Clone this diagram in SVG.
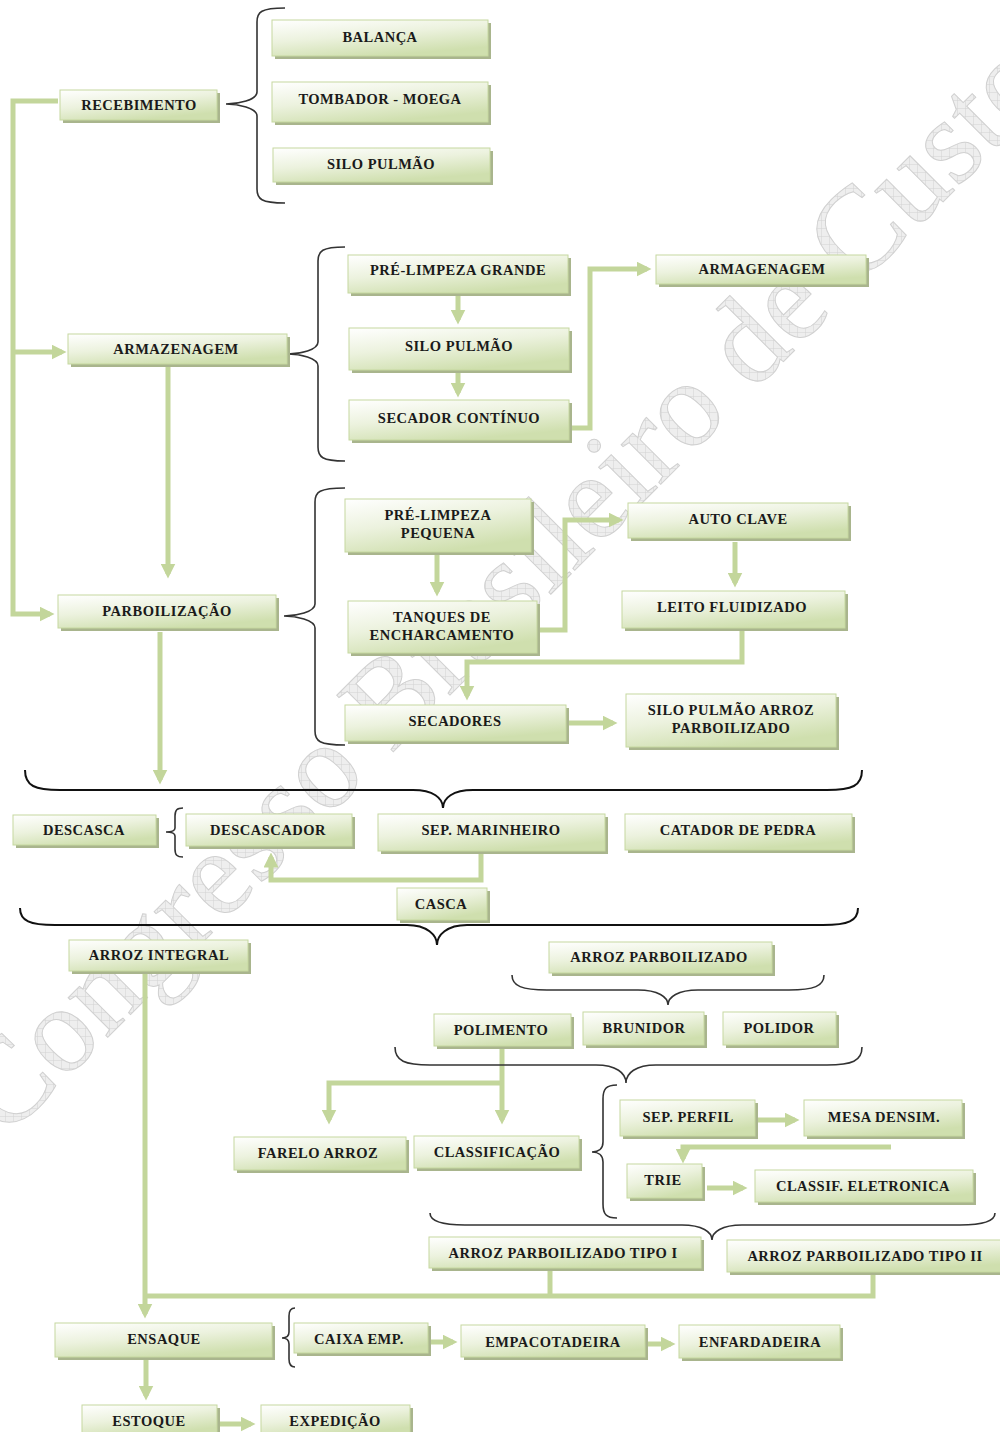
<svg xmlns="http://www.w3.org/2000/svg" width="1000" height="1432" viewBox="0 0 1000 1432">
<defs>
<linearGradient id="g" x1="0" y1="0" x2="0.5" y2="1">
<stop offset="0" stop-color="#ffffff"/>
<stop offset="0.5" stop-color="#ecf2de"/>
<stop offset="1" stop-color="#cfdfae"/>
</linearGradient>
<marker id="ah" markerUnits="userSpaceOnUse" markerWidth="15" markerHeight="15" viewBox="0 0 10 10" refX="7" refY="5" orient="auto">
<path d="M0,0 L10,5 L0,10 z" fill="#c3d69b"/>
</marker>
<pattern id="hatch" width="8" height="8" patternUnits="userSpaceOnUse" patternTransform="rotate(45)">
<rect width="8" height="8" fill="#eeeeee"/>
<path d="M0,0 H8 M0,0 V8" stroke="#d2d2d2" stroke-width="1"/>
</pattern>
</defs>
<style>
.sh{fill:#a9b58d}
.bx{fill:url(#g);stroke:#c6d8a0;stroke-width:1}
.t{font-family:"Liberation Serif","Times New Roman",serif;font-weight:bold;font-size:14.5px;letter-spacing:0.5px;fill:#1a1a1a;text-anchor:middle;dominant-baseline:central}
.c{fill:none;stroke:#c3d69b;stroke-width:5}
.ca{fill:none;stroke:#c3d69b;stroke-width:5;marker-end:url(#ah)}
.br{fill:none;stroke:#333;stroke-width:1.6}
.brk{fill:none;stroke:#111;stroke-width:2}
.wm{font-family:"Liberation Serif","Times New Roman",serif;font-size:122px;fill:url(#hatch);stroke:#d0d0d0;stroke-width:1}
</style>

<text class="wm" transform="translate(5,1140) rotate(-45)">Congresso Brasileiro de Custos</text>

<g id="connectors">
<path class="ca" d="M58,101 H13 V614 H50"/>
<path class="ca" d="M13,352 H62"/>
<path class="ca" d="M168,366 V574"/>
<path class="ca" d="M458,295 V320"/>
<path class="ca" d="M458,372 V393"/>
<path class="ca" d="M569,428 H590 V269 H647"/>
<path class="ca" d="M437,555 V592"/>
<path class="ca" d="M537,630 H565 V520 H619"/>
<path class="ca" d="M735,542 V583"/>
<path class="ca" d="M742,630 V662 H467 V696"/>
<path class="ca" d="M568,723 H613"/>
<path class="ca" d="M160,632 V780"/>
<path class="ca" d="M481,853 V880 H271 V857"/>
<path class="ca" d="M145,973 V1314"/>
<path class="c" d="M145,1296 H873 V1272"/>
<path class="c" d="M550,1268 V1296"/>
<path class="ca" d="M502,1048 V1120"/>
<path class="ca" d="M502,1083 H329 V1120"/>
<path class="ca" d="M758,1120 H795"/>
<path class="ca" d="M891,1147 H683 V1159"/>
<path class="ca" d="M707,1188 H743"/>
<path class="ca" d="M430,1342 H453"/>
<path class="ca" d="M645,1344 H671"/>
<path class="ca" d="M146,1360 V1396"/>
<path class="ca" d="M219,1424 H251"/>
</g>

<g id="braces">
<path class="br" d="M285,8 C261,8 257,12 257,22 L257,92 C257,100 238,104 226,104 C238,104 257,108 257,116 L257,189 C257,199 261,203 285,203"/>
<path class="br" d="M345,247 C322,247 318,251 318,261 L318,342 C318,350 300,354 288,354 C300,354 318,358 318,366 L318,447 C318,457 322,461 345,461"/>
<path class="br" d="M345,488 C319,488 315,492 315,502 L315,604 C315,612 296,616 284,616 C296,616 315,620 315,628 L315,731 C315,741 319,745 345,745"/>
<path class="br" d="M183,808 C177,808 175,810 175,816 L175,828 C175,831 170,832 166,832 C170,832 175,833 175,836 L175,849 C175,855 177,857 183,857"/>
<path class="br" d="M617,1085 C606,1085 603,1089 603,1099 L603,1142 C603,1149 598,1152 592,1152 C598,1152 603,1155 603,1162 L603,1204 C603,1214 606,1218 617,1218"/>
<path class="br" d="M295,1308 C291,1308 289,1310 289,1316 L289,1332 C289,1336 286,1338 282,1338 C286,1338 289,1340 289,1344 L289,1359 C289,1365 291,1367 295,1367"/>
<path class="brk" d="M25,770 C25,786 35,790 60,790 L413,790 C433,790 443,798 443,808 C443,798 453,790 473,790 L827,790 C852,790 862,786 862,770"/>
<path class="brk" d="M20,908 C20,921 30,925 55,925 L407,925 C427,925 437,935 437,945 C437,935 447,925 467,925 L823,925 C848,925 858,921 858,908"/>
<path class="br" d="M512,975 C512,986 522,990 547,990 L638,990 C658,990 668,997 668,1005 C668,997 678,990 698,990 L789,990 C814,990 824,986 824,975"/>
<path class="br" d="M395,1047 C395,1061 405,1065 430,1065 L596,1065 C616,1065 626,1073 626,1083 C626,1073 636,1065 656,1065 L827,1065 C852,1065 862,1061 862,1047"/>
<path class="br" d="M430,1213 C430,1221 440,1225 465,1225 L682,1225 C702,1225 712,1232 712,1240 C712,1232 722,1225 742,1225 L960,1225 C985,1225 995,1221 995,1213"/>
</g>

<g id="n-balanca"><rect class="sh" x="275" y="23" width="216" height="36"/><rect class="bx" x="272" y="20" width="216" height="36"/><text class="t" x="380" y="37">BALANÇA</text></g>
<g id="n-tombador"><rect class="sh" x="275" y="85" width="216" height="40"/><rect class="bx" x="272" y="82" width="216" height="40"/><text class="t" x="380" y="99">TOMBADOR - MOEGA</text></g>
<g id="n-silo1"><rect class="sh" x="276" y="151" width="217" height="34"/><rect class="bx" x="273" y="148" width="217" height="34"/><text class="t" x="381" y="164">SILO PULMÃO</text></g>
<g id="n-recebimento"><rect class="sh" x="63" y="93" width="157" height="30"/><rect class="bx" x="60" y="90" width="157" height="30"/><text class="t" x="139" y="105">RECEBIMENTO</text></g>

<g id="n-armazenagem"><rect class="sh" x="71" y="337" width="219" height="30"/><rect class="bx" x="68" y="334" width="219" height="30"/><text class="t" x="176" y="349">ARMAZENAGEM</text></g>
<g id="n-prelimpg"><rect class="sh" x="351" y="258" width="220" height="38"/><rect class="bx" x="348" y="255" width="220" height="38"/><text class="t" x="458" y="270">PRÉ-LIMPEZA GRANDE</text></g>
<g id="n-silo2"><rect class="sh" x="352" y="331" width="220" height="42"/><rect class="bx" x="349" y="328" width="220" height="42"/><text class="t" x="459" y="346">SILO PULMÃO</text></g>
<g id="n-secador"><rect class="sh" x="352" y="403" width="220" height="40"/><rect class="bx" x="349" y="400" width="220" height="40"/><text class="t" x="459" y="418">SECADOR CONTÍNUO</text></g>
<g id="n-armagenagem"><rect class="sh" x="659" y="258" width="210" height="29"/><rect class="bx" x="656" y="255" width="210" height="29"/><text class="t" x="762" y="269">ARMAGENAGEM</text></g>

<g id="n-parboilizacao"><rect class="sh" x="61" y="598" width="218" height="33"/><rect class="bx" x="58" y="595" width="218" height="33"/><text class="t" x="167" y="611">PARBOILIZAÇÃO</text></g>
<g id="n-prelimpp"><rect class="sh" x="348" y="502" width="186" height="53"/><rect class="bx" x="345" y="499" width="186" height="53"/><text class="t" x="438" y="515">PRÉ-LIMPEZA</text><text class="t" x="438" y="533">PEQUENA</text></g>
<g id="n-tanques"><rect class="sh" x="351" y="604" width="189" height="52"/><rect class="bx" x="348" y="601" width="189" height="52"/><text class="t" x="442" y="617">TANQUES DE</text><text class="t" x="442" y="635">ENCHARCAMENTO</text></g>
<g id="n-autoclave"><rect class="sh" x="631" y="506" width="220" height="35"/><rect class="bx" x="628" y="503" width="220" height="35"/><text class="t" x="738" y="519">AUTO CLAVE</text></g>
<g id="n-leito"><rect class="sh" x="625" y="594" width="223" height="37"/><rect class="bx" x="622" y="591" width="223" height="37"/><text class="t" x="732" y="607">LEITO FLUIDIZADO</text></g>
<g id="n-secadores"><rect class="sh" x="348" y="708" width="221" height="36"/><rect class="bx" x="345" y="705" width="221" height="36"/><text class="t" x="455" y="721">SECADORES</text></g>
<g id="n-silo3"><rect class="sh" x="629" y="697" width="210" height="53"/><rect class="bx" x="626" y="694" width="210" height="53"/><text class="t" x="731" y="710">SILO PULMÃO ARROZ</text><text class="t" x="731" y="728">PARBOILIZADO</text></g>

<g id="n-descasca"><rect class="sh" x="16" y="818" width="143" height="30"/><rect class="bx" x="13" y="815" width="143" height="30"/><text class="t" x="84" y="830">DESCASCA</text></g>
<g id="n-descascador"><rect class="sh" x="189" y="817" width="166" height="32"/><rect class="bx" x="186" y="814" width="166" height="32"/><text class="t" x="268" y="830">DESCASCADOR</text></g>
<g id="n-sepmar"><rect class="sh" x="381" y="817" width="227" height="37"/><rect class="bx" x="378" y="814" width="227" height="37"/><text class="t" x="491" y="830">SEP. MARINHEIRO</text></g>
<g id="n-catador"><rect class="sh" x="628" y="817" width="227" height="36"/><rect class="bx" x="625" y="814" width="227" height="36"/><text class="t" x="738" y="830">CATADOR DE PEDRA</text></g>
<g id="n-casca"><rect class="sh" x="400" y="891" width="90" height="32"/><rect class="bx" x="397" y="888" width="90" height="32"/><text class="t" x="441" y="904">CASCA</text></g>

<g id="n-integral"><rect class="sh" x="72" y="943" width="179" height="31"/><rect class="bx" x="69" y="940" width="179" height="31"/><text class="t" x="159" y="955">ARROZ INTEGRAL</text></g>
<g id="n-parb"><rect class="sh" x="552" y="945" width="223" height="31"/><rect class="bx" x="549" y="942" width="223" height="31"/><text class="t" x="659" y="957">ARROZ PARBOILIZADO</text></g>
<g id="n-polimento"><rect class="sh" x="437" y="1017" width="137" height="32"/><rect class="bx" x="434" y="1014" width="137" height="32"/><text class="t" x="501" y="1030">POLIMENTO</text></g>
<g id="n-brunidor"><rect class="sh" x="586" y="1015" width="121" height="33"/><rect class="bx" x="583" y="1012" width="121" height="33"/><text class="t" x="644" y="1028">BRUNIDOR</text></g>
<g id="n-polidor"><rect class="sh" x="726" y="1015" width="113" height="33"/><rect class="bx" x="723" y="1012" width="113" height="33"/><text class="t" x="779" y="1028">POLIDOR</text></g>
<g id="n-farelo"><rect class="sh" x="237" y="1140" width="172" height="33"/><rect class="bx" x="234" y="1137" width="172" height="33"/><text class="t" x="318" y="1153">FARELO ARROZ</text></g>
<g id="n-classif"><rect class="sh" x="417" y="1139" width="165" height="32"/><rect class="bx" x="414" y="1136" width="165" height="32"/><text class="t" x="497" y="1152">CLASSIFICAÇÃO</text></g>
<g id="n-sepperfil"><rect class="sh" x="623" y="1103" width="135" height="36"/><rect class="bx" x="620" y="1100" width="135" height="36"/><text class="t" x="688" y="1117">SEP. PERFIL</text></g>
<g id="n-mesa"><rect class="sh" x="807" y="1103" width="158" height="36"/><rect class="bx" x="804" y="1100" width="158" height="36"/><text class="t" x="884" y="1117">MESA  DENSIM.</text></g>
<g id="n-trie"><rect class="sh" x="630" y="1167" width="75" height="34"/><rect class="bx" x="627" y="1164" width="75" height="34"/><text class="t" x="663" y="1180">TRIE</text></g>
<g id="n-eletronica"><rect class="sh" x="758" y="1173" width="218" height="32"/><rect class="bx" x="755" y="1170" width="218" height="32"/><text class="t" x="863" y="1186">CLASSIF. ELETRONICA</text></g>
<g id="n-tipo1"><rect class="sh" x="432" y="1240" width="272" height="31"/><rect class="bx" x="429" y="1237" width="272" height="31"/><text class="t" x="563" y="1253">ARROZ PARBOILIZADO TIPO I</text></g>
<g id="n-tipo2"><rect class="sh" x="730" y="1243" width="280" height="32"/><rect class="bx" x="727" y="1240" width="280" height="32"/><text class="t" x="865" y="1256">ARROZ PARBOILIZADO TIPO II</text></g>

<g id="n-ensaque"><rect class="sh" x="58" y="1326" width="217" height="34"/><rect class="bx" x="55" y="1323" width="217" height="34"/><text class="t" x="164" y="1339">ENSAQUE</text></g>
<g id="n-caixa"><rect class="sh" x="297" y="1326" width="134" height="30"/><rect class="bx" x="294" y="1323" width="134" height="30"/><text class="t" x="359" y="1339">CAIXA EMP.</text></g>
<g id="n-empacotadeira"><rect class="sh" x="464" y="1328" width="184" height="32"/><rect class="bx" x="461" y="1325" width="184" height="32"/><text class="t" x="553" y="1342">EMPACOTADEIRA</text></g>
<g id="n-enfardadeira"><rect class="sh" x="682" y="1328" width="161" height="33"/><rect class="bx" x="679" y="1325" width="161" height="33"/><text class="t" x="760" y="1342">ENFARDADEIRA</text></g>
<g id="n-estoque"><rect class="sh" x="85" y="1408" width="135" height="30"/><rect class="bx" x="82" y="1405" width="135" height="30"/><text class="t" x="149" y="1421">ESTOQUE</text></g>
<g id="n-expedicao"><rect class="sh" x="264" y="1408" width="149" height="30"/><rect class="bx" x="261" y="1405" width="149" height="30"/><text class="t" x="335" y="1421">EXPEDIÇÃO</text></g>
</svg>
